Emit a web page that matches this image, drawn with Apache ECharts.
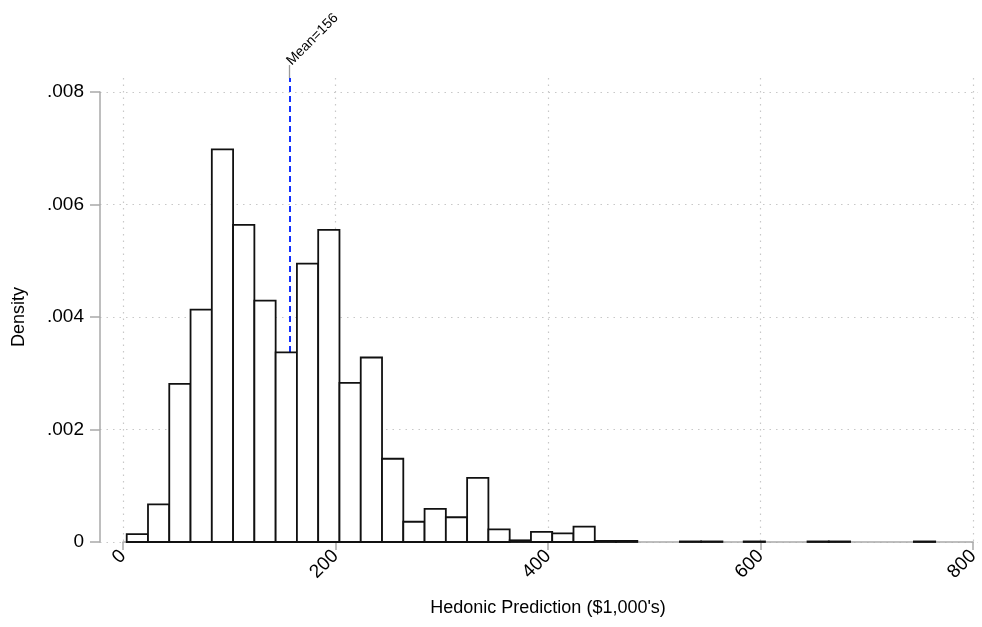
<!DOCTYPE html>
<html>
<head>
<meta charset="utf-8">
<script src="https://cdn.jsdelivr.net/npm/echarts@6/dist/echarts.min.js"></script>
<style>
html,body{margin:0;padding:0;background:#fff;}
#chart{width:982px;height:627px;}
</style>
</head>
<body>
<div id="chart"></div>
<script>
// Histogram definition: bins of equal width starting at binStart
var binStart = 3.5;
var binWidth = 20.02;
var densities = [
  0.00014, 0.00067, 0.00281, 0.00413, 0.00698, 0.00564, 0.00429, 0.00337,
  0.00495, 0.00555, 0.00283, 0.00328, 0.00148, 0.00036, 0.00059, 0.00044,
  0.00114, 0.000225, 0.00003, 0.00018, 0.000155, 0.000275, 0.00002, 0.00002,
  0, 0, 0.00001, 0.00001, 0, 0.00001, 0, 0,
  0.00001, 0.00001, 0, 0, 0, 0.00001
];
var meanValue = 156;
var meanLabel = 'Mean=156';
var xTicks = [0, 200, 400, 600, 800];
var yTicks = [0, 0.002, 0.004, 0.006, 0.008];
var xTitle = "Hedonic Prediction ($1,000's)";
var yTitle = 'Density';

var FONT = '"Liberation Sans", Arial, Helvetica, sans-serif';
var AXIS_GREY = '#a9a9a9';
var GRID_GREY = '#c8c8c8';

var histData = densities.map(function (d, i) {
  return [binStart + i * binWidth, binStart + (i + 1) * binWidth, d];
});

var chart = echarts.init(document.getElementById('chart'), null, {renderer: 'canvas'});
chart.setOption({
  animation: false,
  backgroundColor: '#fff',
  grid: [
    {left: 123, right: 4, top: 78, bottom: 85},
    {left: 100, right: 4, top: 92, bottom: 85},
    {left: 123, right: 4, top: 62, bottom: 85}
  ],
  xAxis: [
    {
      gridIndex: 0, type: 'value', min: xTicks[0], max: xTicks[xTicks.length - 1], interval: 200,
      axisLine: {show: true, onZero: false, lineStyle: {color: AXIS_GREY, width: 1.5}},
      axisTick: {show: true, length: 8, lineStyle: {color: AXIS_GREY, width: 1.5}},
      axisLabel: {rotate: 45, margin: 11, fontSize: 19, color: '#000', fontFamily: FONT},
      splitLine: {show: true, lineStyle: {color: GRID_GREY, type: [1.5, 5], width: 1.2}},
      name: xTitle, nameLocation: 'middle', nameGap: 57,
      nameTextStyle: {fontSize: 18, color: '#000', fontFamily: FONT}
    },
    {gridIndex: 1, type: 'value', min: 0, max: 1, show: false},
    {gridIndex: 2, type: 'value', min: xTicks[0], max: xTicks[xTicks.length - 1], show: false}
  ],
  yAxis: [
    {gridIndex: 0, type: 'value', min: 0, max: 0.00825, show: false},
    {
      gridIndex: 1, type: 'value', min: yTicks[0], max: yTicks[yTicks.length - 1], interval: 0.002,
      axisLine: {show: true, lineStyle: {color: AXIS_GREY, width: 1.5}},
      axisTick: {show: true, length: 10, lineStyle: {color: AXIS_GREY, width: 1.5}},
      axisLabel: {
        margin: 16, fontSize: 19, color: '#000', fontFamily: FONT,
        formatter: function (v) { return v === 0 ? '0' : v.toFixed(3).replace(/^0/, ''); }
      },
      splitLine: {show: true, lineStyle: {color: GRID_GREY, type: [1.5, 5], width: 1.2}},
      name: yTitle, nameLocation: 'middle', nameGap: 72,
      nameTextStyle: {fontSize: 18, color: '#000', fontFamily: FONT}
    },
    {gridIndex: 2, type: 'value', min: 0, max: 0.00825 * 480 / 464, show: false}
  ],
  series: [
    {
      type: 'line', xAxisIndex: 2, yAxisIndex: 2, data: [], z: 1,
      markLine: {
        silent: true, symbol: ['none', 'none'], animation: false, z: 1,
        label: {show: false},
        data: [
          [{coord: [meanValue, 0], lineStyle: {color: '#1030ff', type: [6, 4], width: 2}},
           {coord: [meanValue, 0.00825]}],
          [{coord: [meanValue, 0.00825], lineStyle: {color: '#9a9a9a', type: 'solid', width: 1.3}},
           {coord: [meanValue, 0.00848]}]
        ]
      },
      markPoint: {
        silent: true, symbol: 'circle', symbolSize: 0, animation: false, z: 5,
        label: {
          show: true, formatter: meanLabel, position: 'inside', rotate: 45,
          align: 'left', verticalAlign: 'middle', offset: [1, -2],
          fontSize: 14, color: '#000', fontFamily: FONT
        },
        data: [{coord: [meanValue, 0.00848]}]
      }
    },
    {
      type: 'custom', xAxisIndex: 0, yAxisIndex: 0, z: 3,
      data: histData,
      renderItem: function (params, api) {
        var h = api.value(2);
        if (!h) return null;
        var p0 = api.coord([api.value(0), h]);
        var p1 = api.coord([api.value(1), 0]);
        return {
          type: 'rect',
          shape: {x: p0[0], y: p0[1], width: p1[0] - p0[0], height: p1[1] - p0[1]},
          style: {fill: '#fff', stroke: '#111', lineWidth: 1.8}
        };
      }
    }
  ]
});
</script>
</body>
</html>
